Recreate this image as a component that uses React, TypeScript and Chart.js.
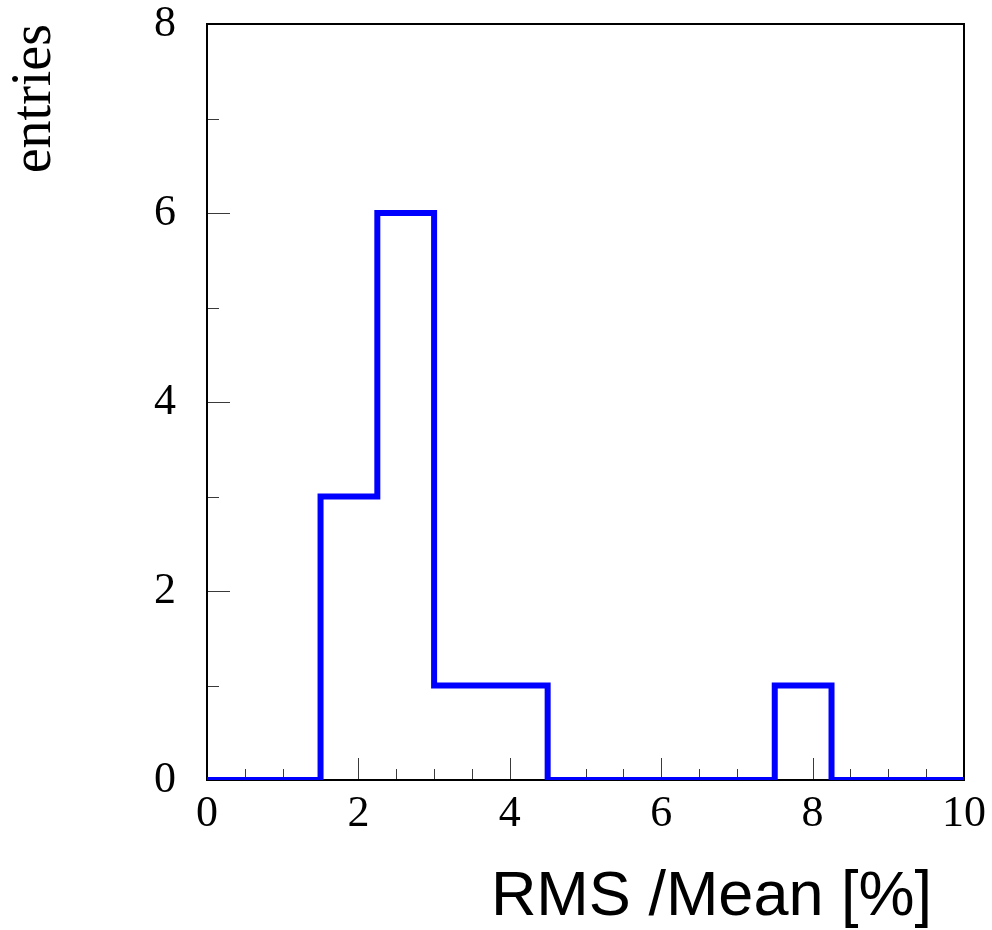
import React, { useEffect, useRef } from 'react';
import { Chart, registerables } from 'chart.js';

Chart.register(...registerables);

// Histogram: low edge of each bin and its entry count
const binLowEdges = [0, 0.75, 1.5, 2.25, 3.0, 3.75, 4.5, 5.25, 6.0, 6.75, 7.5, 8.25, 9.0, 9.75];
const binCounts = [0, 0, 3, 6, 1, 1, 0, 0, 0, 0, 1, 0, 0, 0];

// Axis ranges and tick steps
const xRange = [0, 10];
const yRange = [0, 8];
const xMajorStep = 2;
const xMinorStep = 0.5;
const yMajorStep = 2;
const yMinorStep = 1;

const xTitle = 'RMS /Mean [%]';
const yTitle = 'entries';

const SERIF = '"Liberation Serif", "Times New Roman", serif';
const SANS = '"Liberation Sans", Arial, Helvetica, sans-serif';

const isMultiple = (v: number, step: number) => Math.abs(v / step - Math.round(v / step)) < 1e-6;

const framePlugin = {
  id: 'rootFrame',
  beforeDatasetsDraw(chart: any) {
    const { ctx, chartArea: a, scales } = chart;
    ctx.save();
    ctx.strokeStyle = '#3a3a3a';
    ctx.lineWidth = 1;
    // x-axis ticks (inside, pointing up)
    for (let v = xRange[0]; v <= xRange[1] + 1e-9; v += xMinorStep) {
      const px = Math.round(scales.x.getPixelForValue(v)) + 0.5;
      const len = isMultiple(v, xMajorStep) ? 22 : 11;
      ctx.beginPath();
      ctx.moveTo(px, a.bottom);
      ctx.lineTo(px, a.bottom - len);
      ctx.stroke();
    }
    // y-axis ticks (inside, pointing right)
    for (let v = yRange[0]; v <= yRange[1] + 1e-9; v += yMinorStep) {
      const py = Math.round(scales.y.getPixelForValue(v)) + 0.5;
      const len = isMultiple(v, yMajorStep) ? 23 : 12;
      ctx.beginPath();
      ctx.moveTo(a.left, py);
      ctx.lineTo(a.left + len, py);
      ctx.stroke();
    }
    // frame
    ctx.strokeStyle = '#000';
    ctx.lineWidth = 2;
    ctx.strokeRect(a.left, a.top, a.right - a.left, a.bottom - a.top);
    ctx.restore();
  },
  afterDraw(chart: any) {
    const { ctx, chartArea: a } = chart;
    ctx.save();
    ctx.fillStyle = '#000';
    ctx.font = `63px ${SANS}`;
    ctx.textAlign = 'right';
    ctx.textBaseline = 'alphabetic';
    ctx.fillText(xTitle, a.right - 32, 915);
    ctx.restore();
  },
};

export default function App() {
  const canvasRef = useRef<HTMLCanvasElement | null>(null);

  useEffect(() => {
    if (!canvasRef.current) return;
    const points = binLowEdges.map((e, i) => ({ x: e, y: binCounts[i] }));
    points.push({ x: xRange[1], y: binCounts[binCounts.length - 1] });

    const chart = new Chart(canvasRef.current, {
      type: 'line',
      data: {
        datasets: [
          {
            data: points,
            borderColor: '#0000ff',
            borderWidth: 6,
            stepped: 'before',
            pointRadius: 0,
            fill: false,
            tension: 0,
            borderJoinStyle: 'miter',
            borderCapStyle: 'butt',
          },
        ],
      },
      options: {
        animation: false,
        responsive: false,
        events: [],
        layout: { padding: { left: 0, top: 24, right: 28, bottom: 0 } },
        plugins: {
          legend: { display: false },
          tooltip: { enabled: false },
        },
        scales: {
          x: {
            type: 'linear',
            min: xRange[0],
            max: xRange[1],
            grid: { display: false, drawTicks: false },
            border: { display: false },
            ticks: {
              stepSize: xMajorStep,
              autoSkip: false,
              maxRotation: 0,
              minRotation: 0,
              color: '#000',
              padding: 12,
              font: { family: SERIF, size: 44, lineHeight: 1 },
            },
            afterFit: (s: any) => {
              s.height = 150;
              s.paddingLeft = 0;
              s.paddingRight = 0;
            },
          },
          y: {
            type: 'linear',
            min: yRange[0],
            max: yRange[1],
            grid: { display: false, drawTicks: false },
            border: { display: false },
            ticks: {
              stepSize: yMajorStep,
              color: '#000',
              padding: 31,
              font: { family: SERIF, size: 44, lineHeight: 1 },
            },
            title: {
              display: true,
              text: yTitle,
              align: 'end',
              color: '#000',
              font: { family: SERIF, size: 56, lineHeight: 1.2 },
              padding: { top: 2, bottom: 0 },
            },
            afterFit: (s: any) => {
              s.width = 207;
              s.paddingTop = 0;
              s.paddingBottom = 0;
            },
          },
        },
      } as any,
      plugins: [framePlugin],
    });
    return () => chart.destroy();
  }, []);

  return (
    <div style={{ position: 'absolute', left: 0, top: 0, width: 992, height: 930, background: '#fff' }}>
      <canvas ref={canvasRef} width={992} height={930} style={{ display: 'block', width: 992, height: 930 }} />
    </div>
  );
}
